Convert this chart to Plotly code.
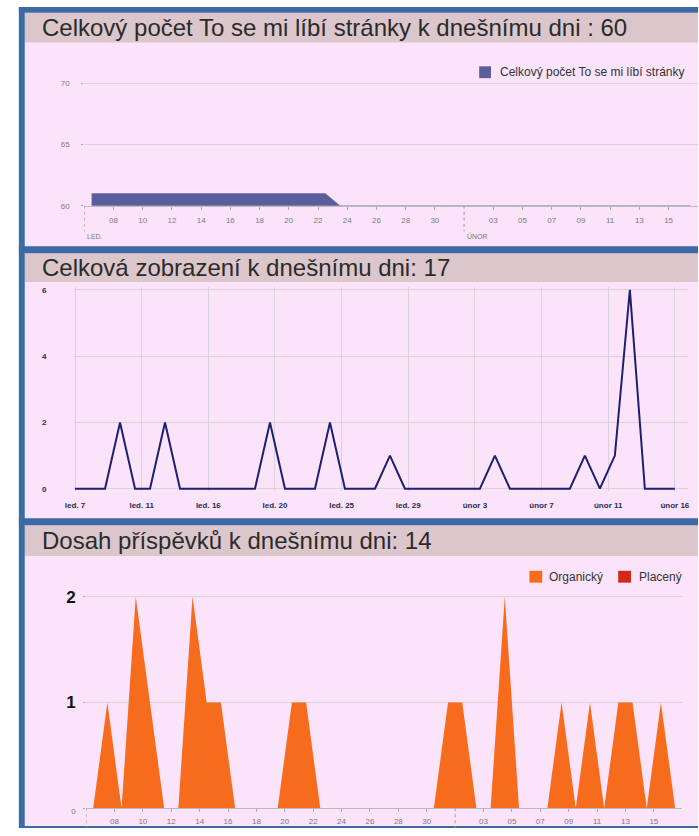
import numpy as np
import pandas as pd
import plotly.graph_objects as go

# ---------------- data ----------------
LIKES_TITLE = "Celkový počet To se mi líbí stránky k dnešnímu dni : 60"
LIKES_NAME = "Celkový počet To se mi líbí stránky"
LIKES_DATES = pd.date_range("2014-01-06", "2014-02-16", freq="D")
LIKES_VALUES = [61, 61, 61, 61, 61, 61, 61, 61, 61, 61,
                61, 61, 61, 61, 61, 61, 61, 60, 60, 60,
                60, 60, 60, 60, 60, 60, 60, 60, 60, 60,
                60, 60, 60, 60, 60, 60, 60, 60, 60, 60,
                60, 60]
LIKES_YTICKS = [60, 65, 70]

VIEWS_TITLE = "Celková zobrazení k dnešnímu dni: 17"
VIEWS_DATES = pd.date_range("2014-01-07", "2014-02-16", freq="D")
VIEWS_VALUES = [0, 0, 0, 2, 0, 0, 2, 0, 0, 0,
                0, 0, 0, 2, 0, 0, 0, 2, 0, 0,
                0, 1, 0, 0, 0, 0, 0, 0, 1, 0,
                0, 0, 0, 0, 1, 0, 1, 6, 0, 0,
                0]
VIEWS_XTICKS = ["led. 7", "led. 11", "led. 16", "led. 20", "led. 25",
                "led. 29", "únor 3", "únor 7", "únor 11", "únor 16"]
VIEWS_YTICKS = [0, 2, 4, 6]

REACH_TITLE = "Dosah příspěvků k dnešnímu dni: 14"
REACH_DATES = pd.date_range("2014-01-06", "2014-02-16", freq="D")
REACH_ORGANIC = [0, 1, 0, 2, 1, 0, 0, 2, 1, 1,
                 0, 0, 0, 0, 1, 1, 0, 0, 0, 0,
                 0, 0, 0, 0, 0, 1,
                 1, 0, 0, 2, 0, 0, 0, 1, 0, 1,
                 0, 1, 1, 0, 1, 0]
REACH_PAID = [0, 0, 0, 0, 0, 0, 0, 0, 0, 0,
              0, 0, 0, 0, 0, 0, 0, 0, 0, 0,
              0, 0, 0, 0, 0, 0,
              0, 0, 0, 0, 0, 0, 0, 0, 0, 0,
              0, 0, 0, 0, 0, 0]
REACH_NAMES = ["Organický", "Placený"]
REACH_YTICKS = [0, 1, 2]

DAY_TICKS = ["2014-01-08", "2014-01-10", "2014-01-12", "2014-01-14",
             "2014-01-16", "2014-01-18", "2014-01-20", "2014-01-22",
             "2014-01-24", "2014-01-26", "2014-01-28", "2014-01-30",
             "2014-02-03", "2014-02-05", "2014-02-07", "2014-02-09",
             "2014-02-11", "2014-02-13", "2014-02-15"]
MONTH_STARTS = ["2014-01-06", "2014-02-01"]
MONTH_LABELS = ["LED.", "ÚNOR"]
AXIS_RANGE = ["2014-01-06", "2014-02-17"]

# ---------------- styling ----------------
W, H = 699, 836
FONT = "Liberation Sans"
BLUE = "#3d6aa3"
PINK = "#fbe4fa"
HEAD = "#dbc6cc"
GRID = "#dacfdd"
LIKES_COLOR = "#5c5d9d"
VIEWS_COLOR = "#1f1f6e"
ORANGE = "#f76b1c"
RED = "#d5281a"
HALF_DAY = pd.Timedelta(hours=12)


def px(x):
    return x / W


def py(y):
    return 1 - y / H


fig = go.Figure()

fig.add_trace(go.Scatter(
    x=LIKES_DATES + HALF_DAY, y=LIKES_VALUES, name=LIKES_NAME,
    mode="lines", fill="tozeroy", fillcolor=LIKES_COLOR,
    line=dict(color=LIKES_COLOR, width=0.5), xaxis="x", yaxis="y",
    showlegend=False))

fig.add_trace(go.Scatter(
    x=VIEWS_DATES, y=VIEWS_VALUES, mode="lines",
    line=dict(color=VIEWS_COLOR, width=2), xaxis="x2", yaxis="y2",
    showlegend=False))

for vals, name, col in [(REACH_ORGANIC, REACH_NAMES[0], ORANGE),
                        (REACH_PAID, REACH_NAMES[1], RED)]:
    fig.add_trace(go.Scatter(
        x=REACH_DATES + HALF_DAY, y=vals, name=name, mode="lines",
        stackgroup="reach", fillcolor=col, line=dict(color=col, width=0),
        xaxis="x3", yaxis="y3", showlegend=False))

# views ticks evenly spread over the date span
v0 = VIEWS_DATES[0].value
v1 = VIEWS_DATES[-1].value
views_tickvals = pd.to_datetime(np.linspace(v0, v1, len(VIEWS_XTICKS)).astype("int64"))

small = dict(family=FONT, size=8, color="#7a7a7a")
bold_small = dict(family=FONT, size=8, color="#2a2a50", weight="bold")

fig.update_layout(
    width=W, height=H, margin=dict(l=0, r=0, t=0, b=0),
    paper_bgcolor="white", plot_bgcolor="rgba(0,0,0,0)",
    font=dict(family=FONT),
    xaxis=dict(domain=[px(76.4), px(698.8)], anchor="y", type="date",
               range=AXIS_RANGE, tickvals=DAY_TICKS, tickformat="%d",
               ticks="outside", ticklen=3, tickcolor="#aaa",
               showline=True, linecolor="#bbb", linewidth=1,
               showgrid=False, tickfont=small, ticklabelstandoff=4),
    yaxis=dict(domain=[py(207), py(64.4)], anchor="x", range=[60, 71.5],
               tickvals=LIKES_YTICKS, showgrid=True, gridcolor=GRID,
               zeroline=False, ticks="outside", ticklen=2, tickcolor="#aaa",
               tickfont=small, ticklabelstandoff=10),
    xaxis2=dict(domain=[px(65.48), px(689.2)], anchor="y2", type="date",
                range=[VIEWS_DATES[0] - pd.Timedelta(hours=2.4),
                       VIEWS_DATES[-1] + pd.Timedelta(hours=21.6)],
                tickvals=views_tickvals, ticktext=VIEWS_XTICKS,
                showgrid=True, gridcolor=GRID, showline=False, ticks="",
                tickfont=bold_small, ticklabelstandoff=8),
    yaxis2=dict(domain=[py(495.7), py(288.65)], anchor="x2",
                range=[-0.08, 6.1], tickvals=VIEWS_YTICKS,
                showgrid=True, gridcolor=GRID, zeroline=False,
                tickfont=bold_small, ticklabelstandoff=26),
    xaxis3=dict(domain=[px(78.2), px(683)], anchor="y3", type="date",
                range=AXIS_RANGE, tickvals=DAY_TICKS, tickformat="%d",
                ticks="outside", ticklen=3, tickcolor="#aaa",
                showline=True, linecolor="#bbb", linewidth=1,
                showgrid=False, tickfont=small, ticklabelstandoff=2),
    yaxis3=dict(domain=[py(816), py(586)], anchor="x3", range=[0, 2.15],
                tickvals=REACH_YTICKS,
                ticktext=["<span style='font-size:8px;color:#7a7a7a;font-weight:normal'>0</span>",
                          "<b>1</b>", "<b>2</b>"],
                showgrid=True, gridcolor=GRID, zeroline=False,
                ticks="outside", ticklen=2, tickcolor="#aaa",
                tickfont=dict(family=FONT, size=17, color="#111"),
                ticklabelstandoff=4),
)

shapes = []


def rect(x0, y0, x1, y1, color, layer="below"):
    shapes.append(dict(type="rect", xref="paper", yref="paper",
                       x0=px(x0), x1=px(x1), y0=py(y1), y1=py(y0),
                       fillcolor=color, line=dict(width=0), layer=layer))


# page background and frame
rect(16, 12, 699, 836, PINK)
rect(16, 12, 699, 42, HEAD)
rect(16, 255, 699, 284, HEAD)
rect(16, 530, 699, 561, HEAD)
rect(10, 6, 699, 12, BLUE, "above")
rect(10, 6, 16, 836, BLUE, "above")
rect(10, 248, 699, 255, BLUE, "above")
rect(10, 523, 699, 530, BLUE, "above")
rect(10, 834, 699, 836, BLUE, "above")

# month separators (dotted)
for m in MONTH_STARTS:
    shapes.append(dict(type="line", xref="x", yref="paper", x0=m, x1=m,
                       y0=py(207), y1=py(233),
                       line=dict(color="#999", width=1, dash="dot")))
    shapes.append(dict(type="line", xref="x3", yref="paper", x0=m, x1=m,
                       y0=py(816), y1=py(836),
                       line=dict(color="#999", width=1, dash="dot")))

# legend swatches
rect(477, 66, 489, 78, LIKES_COLOR, "above")
rect(528, 576, 541, 588, ORANGE, "above")
rect(618, 576, 631, 588, RED, "above")

annotations = []
for text, yc in [(LIKES_TITLE, 27), (VIEWS_TITLE, 269), (REACH_TITLE, 545)]:
    annotations.append(dict(text=text, xref="paper", yref="paper",
                            x=px(31), y=py(yc), xanchor="left", yanchor="middle",
                            showarrow=False,
                            font=dict(family=FONT, size=24, color="#2b2b2b")))

for m, lab in zip(MONTH_STARTS, MONTH_LABELS):
    annotations.append(dict(text=lab, xref="x", yref="paper", x=m, y=py(238),
                            xanchor="left", yanchor="middle", xshift=1,
                            showarrow=False,
                            font=dict(family=FONT, size=7, color="#7a7a7a")))

leg_font = dict(family=FONT, size=12, color="#333")
annotations.append(dict(text=LIKES_NAME, xref="paper", yref="paper",
                        x=px(496), y=py(72), xanchor="left", yanchor="middle",
                        showarrow=False, font=leg_font))
annotations.append(dict(text=REACH_NAMES[0], xref="paper", yref="paper",
                        x=px(546), y=py(582), xanchor="left", yanchor="middle",
                        showarrow=False, font=leg_font))
annotations.append(dict(text=REACH_NAMES[1], xref="paper", yref="paper",
                        x=px(637), y=py(582), xanchor="left", yanchor="middle",
                        showarrow=False, font=leg_font))

fig.update_layout(shapes=shapes, annotations=annotations)

fig.write_html(
    "out.html",
    config={"displayModeBar": False},
    post_script="document.documentElement.style.margin='0';"
                "document.body.style.margin='0';"
                "document.body.style.overflow='hidden';")
